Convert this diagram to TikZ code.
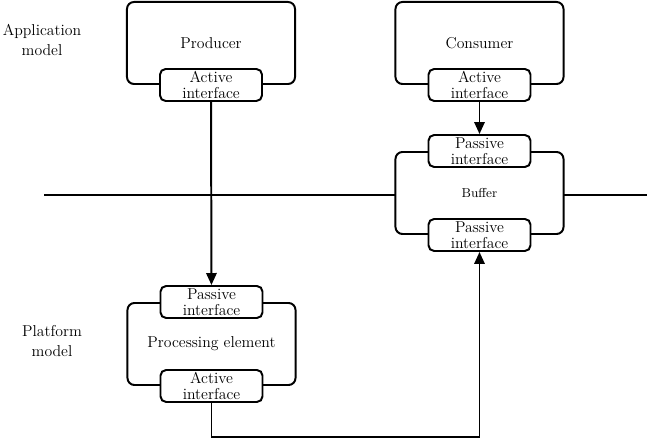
\documentclass[tikz,border=0pt]{standalone}
\usepackage{tikz}
\usetikzlibrary{arrows.meta,positioning}

\begin{document}
\begin{tikzpicture}[
  x=0.025cm, y=-0.025cm,
  comp/.style={draw,rectangle,rounded corners=5pt,fill=white,minimum width=4.2cm,minimum height=2.05cm,font=\fontsize{11.2}{12}\selectfont,line width=1.4pt},
  iface/.style={draw,rectangle,rounded corners=4pt,fill=white,minimum width=2.55cm,minimum height=0.8cm,inner sep=1pt,align=center,font=\fontsize{11.2}{11}\selectfont,line width=1.4pt},
  lvl/.style={align=center,font=\fontsize{11.2}{14}\selectfont},
  arr/.style={-{Triangle[length=3mm,width=2.6mm]},line width=1.4pt}
]
\useasboundingbox (0,0) rectangle (647,438);

% level divider, behind the buffer
\coordinate (divL) at (44,195);
\coordinate (divR) at (647,195);
\draw[line width=1.4pt] (divL) -- (divR);

\node[comp] (prod) at (211,43) {Producer};
\node[comp] (cons) at (479.5,43) {Consumer};
\node[comp,font=\fontsize{9.2}{11}\selectfont] (buf) at (479.5,193) {Buffer};
\node[comp] (pe) at (211.5,344) {Processing element};

\node[iface] (prodAct) at (prod.south) {Active\\interface};
\node[iface] (consAct) at (cons.south) {Active\\interface};
\node[iface] (bufIn) at (buf.north) {Passive\\interface};
\node[iface] (bufOut) at (buf.south) {Passive\\interface};
\node[iface] (pePas) at (pe.north) {Passive\\interface};
\node[iface] (peAct) at (pe.south) {Active\\interface};

\draw[arr] (prodAct) -- (pePas);
\draw[arr] (consAct) -- (bufIn);
\draw[arr] (peAct.south) -- ++(0,34.5) -| (bufOut.south);

\node[lvl] (appLbl) at (42,40) {Application\\model};
\node[lvl] (platLbl) at (52,341) {Platform\\model};

\end{tikzpicture}
\end{document}
